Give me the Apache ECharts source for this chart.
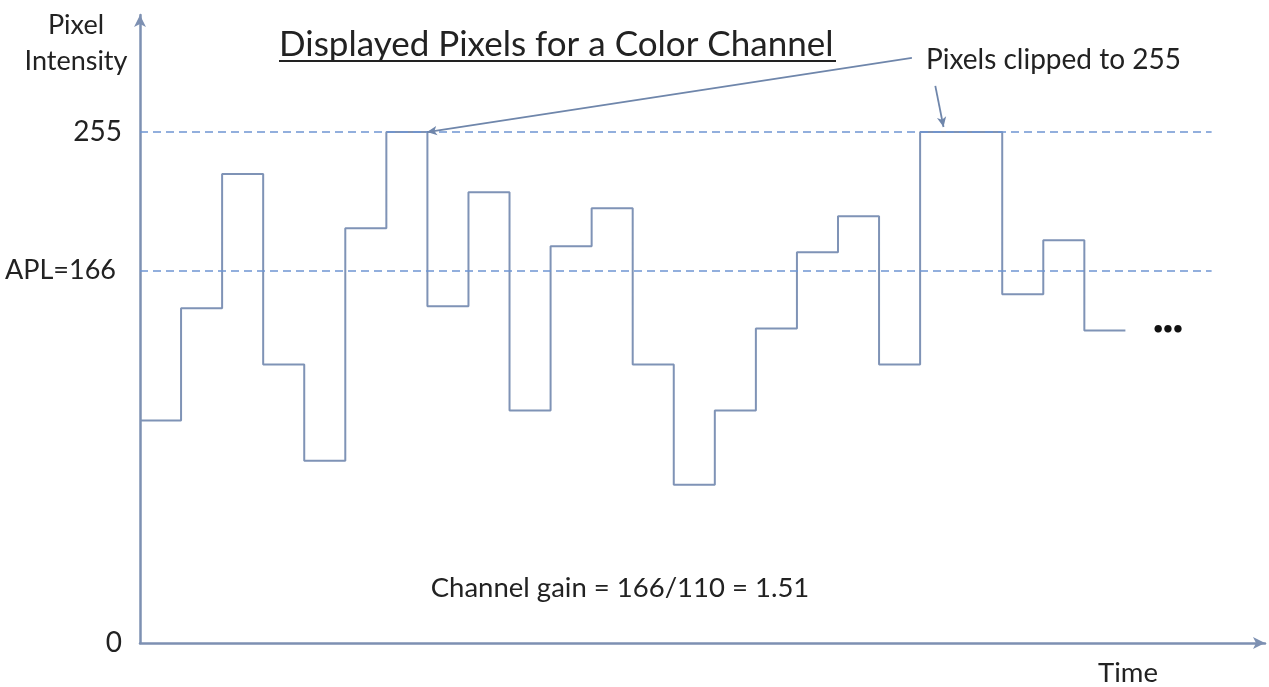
<!DOCTYPE html>
<html>
<head>
<meta charset="utf-8">
<script src="https://cdn.jsdelivr.net/npm/echarts@6/dist/echarts.min.js"></script>
<style>html,body{margin:0;padding:0;background:#fff}#c{width:1269px;height:687px}</style>
</head>
<body>
<div id="c"></div>
<script>
// sample index (time steps) and displayed pixel values per step
var timeSteps = [0,1,2,3,4,5,6,7,8,9,10,11,12,13,14,15,16,17,18,19,20,21,22,23];
var pixelValues = [111,167,234,139,91,207,255,168,225,116,198,217,139,79,116,157,195,213,139,255,255,174,201,156];
var stepEnd = 24;
var yTickLabels = {0:'0', 255:'255'};
var clipLevel = 255;
var aplLevel = 186;      // drawn position of the APL reference line
var aplLabel = 'APL=166';
var refLineEnd = 26.1;
var arrow1 = [[18.8, 292], [6.99, 255]];
var arrow2 = [[19.37, 278], [19.57, 257.5]];

var FONT = 'Lato';
var lineData = timeSteps.map(function(t, i){ return [t, pixelValues[i]]; });
lineData.push([stepEnd, pixelValues[pixelValues.length - 1]]);

var chart = echarts.init(document.getElementById('c'));
var axisColor = '#7d90b2';
var dashColor = '#6f95d2';
chart.setOption({
  animation: false,
  backgroundColor: '#fff',
  grid: {left: 140, right: 4, top: 15, bottom: 44},
  xAxis: {
    type: 'value', min: 0, max: 27.4,
    axisLine: {show: true, symbol: ['none', 'arrow'], symbolSize: [9, 12], lineStyle: {color: axisColor, width: 2.5}},
    axisTick: {show: false}, axisLabel: {show: false}, splitLine: {show: false}
  },
  yAxis: {
    type: 'value', min: 0, max: 313.4, interval: 255,
    axisLine: {show: true, symbol: ['none', 'arrow'], symbolSize: [9, 12], lineStyle: {color: axisColor, width: 2.5}},
    axisTick: {show: false}, splitLine: {show: false},
    axisLabel: {
      margin: 18, fontFamily: FONT, fontSize: 28, color: '#222',
      formatter: function(v){ return yTickLabels[v] !== undefined ? yTickLabels[v] : ''; }
    }
  },
  series: [{
    type: 'line', step: 'end', data: lineData, symbol: 'none',
    lineStyle: {color: '#7f93b6', width: 2},
    markLine: {
      silent: true, symbol: ['none', 'none'],
      data: [
        [{coord: [0, clipLevel], lineStyle: {type: [8, 5], color: dashColor, width: 1.5}, label: {show: false}},
         {coord: [refLineEnd, clipLevel]}],
        [{coord: [0, aplLevel], lineStyle: {type: [8, 5], color: dashColor, width: 1.5},
          label: {show: true, position: 'start', distance: 24, formatter: aplLabel, fontFamily: FONT, fontSize: 27, color: '#222'}},
         {coord: [refLineEnd, aplLevel]}],
        [{coord: arrow1[0], symbol: 'none', lineStyle: {type: 'solid', color: '#6f86ab', width: 1.8}, label: {show: false}},
         {coord: arrow1[1], symbol: 'arrow', symbolSize: [7, 10]}],
        [{coord: arrow2[0], symbol: 'none', lineStyle: {type: 'solid', color: '#6f86ab', width: 1.8}, label: {show: false}},
         {coord: arrow2[1], symbol: 'arrow', symbolSize: [7, 10]}]
      ]
    }
  }],
  graphic: [
    {type: 'text', x: 279, y: 45, style: {text: 'Displayed Pixels for a Color Channel', font: '35px ' + FONT, fill: '#222', verticalAlign: 'middle'}},
    {type: 'line', shape: {x1: 279, y1: 61, x2: 836, y2: 61}, style: {stroke: '#222', lineWidth: 2}},
    {type: 'text', x: 926, y: 60, style: {text: 'Pixels clipped to 255', font: '28px ' + FONT, fill: '#222', verticalAlign: 'middle'}},
    {type: 'text', x: 76, y: 25, style: {text: 'Pixel', font: '27px ' + FONT, fill: '#222', align: 'center', verticalAlign: 'middle'}},
    {type: 'text', x: 76, y: 61, style: {text: 'Intensity', font: '27px ' + FONT, fill: '#222', align: 'center', verticalAlign: 'middle'}},
    {type: 'text', x: 620, y: 588, style: {text: 'Channel gain = 166/110 = 1.51', font: '27.5px ' + FONT, fill: '#222', align: 'center', verticalAlign: 'middle'}},
    {type: 'text', x: 1128, y: 673, style: {text: 'Time', font: '27.5px ' + FONT, fill: '#222', align: 'center', verticalAlign: 'middle'}},
    {type: 'text', x: 1168, y: 329, style: {text: '\u2022\u2022\u2022', font: 'bold 17px ' + FONT, fill: '#111', align: 'center', verticalAlign: 'middle'}}
  ]
});
</script>
</body>
</html>
